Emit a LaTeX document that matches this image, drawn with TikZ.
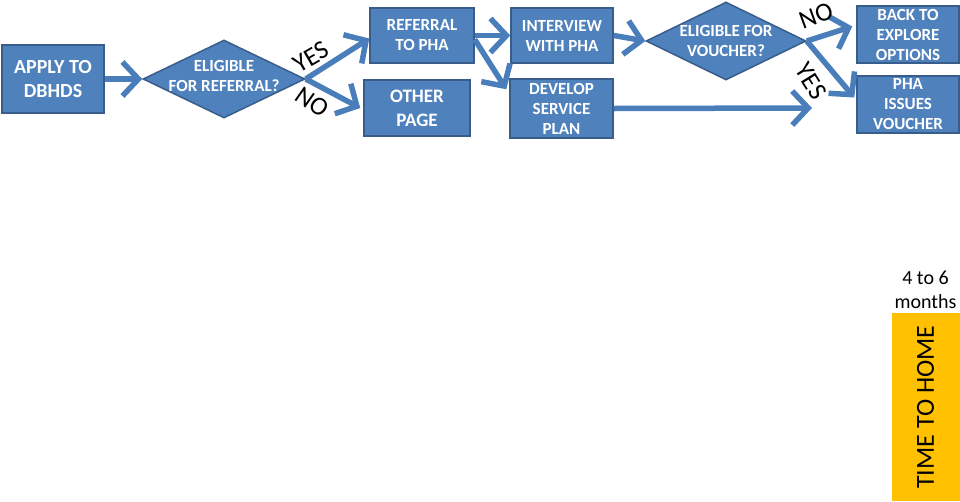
\documentclass[tikz,border=0pt]{standalone}
\usepackage{fontspec}
\setmainfont{Carlito}
\usetikzlibrary{arrows.meta,positioning,shapes.geometric}
\definecolor{boxc}{HTML}{4F81BD}
\definecolor{edgec}{HTML}{385D8A}
\definecolor{arrc}{HTML}{4A7EBB}
\definecolor{barc}{HTML}{FFC000}
\tikzset{
  ar/.style={-{Straight Barb[length=16pt,width=34pt]},line width=5.5pt,arrc},
  box/.style={draw=edgec,line width=1.5pt,fill=boxc,text=white,align=center,inner sep=0pt,font=\bfseries\fontsize{17}{20}\selectfont},
  dia/.style={diamond,draw=edgec,line width=1.5pt,fill=boxc,inner sep=0pt},
  diatxt/.style={text=white,align=center,font=\bfseries\fontsize{17}{20}\selectfont},
  lbl/.style={font=\fontsize{26}{26}\selectfont,inner sep=0pt}
}

\begin{document}
\begin{tikzpicture}[x=1pt,y=-1pt]
\useasboundingbox (0,0) rectangle (960,501);
\fill[white] (0,0) rectangle (960,501);
% boxes and decisions
\node[box,minimum width=102pt,minimum height=68pt,font=\bfseries\fontsize{20}{24}\selectfont] (apply) at (53,79) {APPLY TO\\DBHDS};
\node[dia,minimum width=162pt,minimum height=78pt,label={[diatxt,yshift=3pt]center:ELIGIBLE\\FOR REFERRAL?}] (elig1) at (224,79) {};
\node[box,minimum width=104pt,minimum height=55pt] (ref) at (422,35.5) {REFERRAL\\TO PHA};
\node[box,minimum width=106pt,minimum height=56pt,font=\bfseries\fontsize{19}{24}\selectfont] (other) at (417,108) {OTHER\\PAGE};
\node[box,minimum width=102pt,minimum height=55pt] (inter) at (562,35.5) {INTERVIEW\\WITH PHA};
\node[box,minimum width=103pt,minimum height=59pt] (dev) at (561.5,108.5) {DEVELOP\\SERVICE\\PLAN};
\node[dia,minimum width=160pt,minimum height=78pt,label={[diatxt]center:ELIGIBLE FOR\\VOUCHER?}] (elig2) at (726,41) {};
\node[box,minimum width=102pt,minimum height=57pt] (back) at (908,34.5) {BACK TO\\EXPLORE\\OPTIONS};
\node[box,minimum width=102pt,minimum height=57pt] (pha) at (908,104.5) {PHA\\ISSUES\\VOUCHER};
\coordinate (devend) at (812,108);
% arrows
\draw[ar] (apply.east) -- (elig1.west);
\draw[ar] (elig1.east) -- ([yshift=-3pt]ref.west);
\draw[ar] (elig1.east) -- ([xshift=-3pt]other.west);
\draw[ar] (ref.east) -- (inter.west);
\draw[ar] ([yshift=-4pt]ref.east) -- ([shift={(-3,11)}]dev.north west);
\draw[ar] (inter.east) -- (elig2.west);
\draw[ar] (elig2.east) -- ([shift={(-4,-8)}]back.west);
\draw[ar] (elig2.east) -- ([shift={(-2,-7)}]pha.west);
\draw[ar] (dev.east) -- (devend);
% answers
\node[lbl,rotate=30] (yes1) at (311,57) {YES};
\node[lbl,rotate=-35] (no1) at (312,102) {NO};
\node[lbl,rotate=20] (no2) at (816,16) {NO};
\node[lbl,rotate=-58] (yes2) at (811,81) {YES};
% time bar
\node[fill=barc,minimum width=188pt,minimum height=68pt,inner sep=0pt,rotate=90,font=\fontsize{26}{30}\selectfont] (bar) at (925.5,407) {TIME TO HOME};
\node[above=4pt of bar.east,align=center,font=\fontsize{20}{24}\selectfont,inner sep=0pt] (months) {4 to 6\\months};
\end{tikzpicture}
\end{document}
